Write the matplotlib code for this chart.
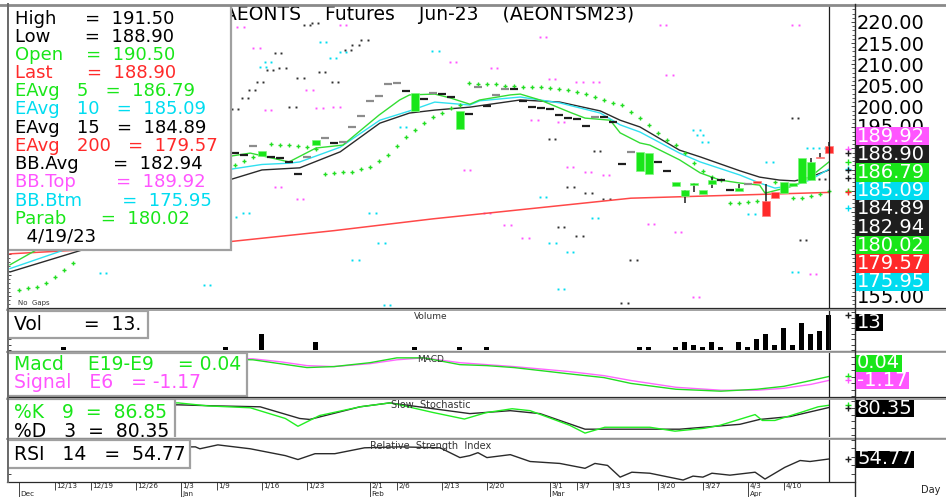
import numpy as np
import matplotlib
matplotlib.use("Agg")
import matplotlib.pyplot as plt
import matplotlib.transforms as mtransforms
from matplotlib.patches import Rectangle
from matplotlib.lines import Line2D
from matplotlib.ticker import MultipleLocator, FuncFormatter

plt.rcParams['font.family'] = ['DejaVu Sans']

W, H = 946, 497

# ---------------- data ----------------
TITLE = 'AEONTS    Futures    Jun-23    (AEONTSM23)'

# candles, day index 25..91 (index 0 = first trading day in Dec)
BAR_IDX = list(range(25, 92))
OPEN = [188.9, 188.4, 190.6, 188.2, 188.0, 187.7, 186.8, 183.9, 188.0, 190.8,
        192.5, 191.3, 191.5, 195.1, 197.7, 201.3, 202.4, 205.3, 205.5, 203.6,
        198.9, 201.7, 203.2, 202.9, 202.2, 194.6, 198.2, 204.6, 200.1, 202.7,
        204.1, 204.1, 201.3, 199.8, 199.6, 199.4, 197.9, 197.2, 197.0, 195.3,
        197.5, 197.5, 196.3, 186.3, 189.2, 184.7, 183.9, 186.8, 184.7, 181.1,
        178.7, 181.3, 179.2, 181.6, 182.5, 180.1, 179.9, 181.6, 182.2, 177.5,
        179.7, 179.4, 181.1, 181.8, 182.5, 188.0, 190.5]
HIGH = [188.9, 188.4, 190.6, 189.4, 188.0, 187.7, 186.8, 183.9, 188.0, 192.0,
        192.5, 191.3, 191.5, 195.1, 197.7, 201.3, 202.4, 205.3, 205.5, 203.6,
        203.2, 201.7, 203.2, 202.9, 202.2, 198.9, 198.2, 204.6, 200.1, 202.7,
        204.1, 204.1, 201.3, 199.8, 199.6, 199.4, 197.9, 197.2, 197.0, 195.3,
        197.5, 197.5, 196.3, 186.3, 189.2, 189.2, 188.9, 186.8, 184.7, 182.0,
        180.1, 181.8, 180.1, 183.2, 182.5, 180.1, 181.6, 181.6, 182.2, 181.6,
        179.7, 182.0, 181.8, 187.7, 187.7, 188.9, 191.5]
LOW = [188.9, 188.4, 190.6, 188.2, 188.0, 187.7, 186.8, 183.9, 188.0, 190.8,
       192.5, 191.3, 191.5, 195.1, 197.7, 201.3, 202.4, 205.3, 205.5, 203.6,
       198.9, 201.7, 203.2, 202.9, 202.2, 194.6, 198.2, 204.6, 200.1, 202.7,
       204.1, 204.1, 201.3, 199.8, 199.6, 199.4, 197.9, 197.2, 197.0, 195.3,
       197.5, 197.5, 196.3, 186.3, 189.2, 184.7, 183.9, 186.8, 184.7, 181.1,
       177.1, 179.7, 179.2, 180.6, 182.5, 180.1, 179.9, 181.6, 181.9, 174.0,
       178.2, 179.4, 181.1, 181.8, 182.5, 187.7, 188.9]
CLOSE = [188.9, 188.4, 190.6, 189.4, 188.0, 187.7, 186.8, 183.9, 188.0, 192.0,
         192.5, 191.3, 191.5, 195.1, 197.7, 201.3, 202.4, 205.3, 205.5, 203.6,
         203.2, 201.7, 203.2, 202.9, 202.2, 198.9, 198.2, 204.6, 200.1, 202.7,
         204.1, 204.1, 201.3, 199.8, 199.6, 199.4, 197.9, 197.2, 197.0, 195.3,
         197.5, 197.5, 196.3, 186.3, 189.2, 189.2, 188.9, 186.8, 184.7, 182.0,
         180.1, 181.8, 180.1, 182.5, 182.5, 180.1, 180.6, 181.6, 181.9, 174.0,
         178.2, 182.0, 181.8, 187.7, 186.8, 187.7, 188.9]

# moving averages (day index, price)
EMA5_X = [0, 3, 8, 13, 18, 21, 24, 26.7, 31, 34, 37, 41, 43.3, 44.4, 47.2, 48.9, 51.1, 52.2,
          55.6, 56.7, 58.9, 62.2, 63.9, 66.7, 67.8, 70, 71.1, 74.4, 76.7, 78.9, 81.1, 83.3,
          83.9, 86.7, 87.8, 88.9, 91]
EMA5 = [162.4, 166.0, 172.0, 178.0, 184.0, 187.0, 188.0, 188.9, 186.8, 190.1, 190.8, 197.9,
        201.5, 202.7, 202.9, 202.0, 200.5, 201.5, 202.7, 202.9, 201.5, 198.6, 197.2, 196.7,
        193.7, 191.3, 190.8, 187.3, 184.2, 182.5, 181.8, 181.3, 179.4, 180.9, 181.8, 183.2, 186.79]
EMA10_X = [0, 6, 12, 18, 24, 28, 31, 32.2, 36.7, 41.1, 44.4, 47.2, 51.1, 52.2, 56.7, 61.1,
           65.6, 67.8, 70, 74.4, 76.7, 81.1, 83.3, 85, 87.2, 88.9, 91]
EMA10 = [161.5, 165.9, 172.5, 179.5, 184.9, 186.2, 186.5, 186.8, 190.3, 196.7, 198.9, 201.0,
         200.3, 201.3, 202.2, 200.8, 198.4, 195.6, 193.9, 188.9, 186.8, 183.7, 181.8, 180.6,
         181.3, 182.5, 185.09]
EMA15_X = [0, 8, 16, 24, 28, 32.2, 36.7, 41.1, 44.4, 47.2, 51.1, 56.7, 61.1, 65.6, 67.8, 70,
           74.4, 76.7, 81.1, 83.3, 85.5, 87.2, 88.9, 91]
EMA15 = [160.7, 165.9, 174.5, 182.3, 184.9, 185.4, 189.2, 196.0, 198.4, 199.1, 199.8, 201.5,
         201.0, 198.9, 196.7, 195.1, 189.6, 188.0, 184.7, 183.2, 182.5, 182.3, 183.2, 184.89]
EMA200_X = [0, 24, 36, 47, 69, 91]
EMA200 = [165.0, 167.8, 170.5, 173.3, 178.2, 179.57]

# parabolic SAR
SAR_IDX = [1, 2, 3, 4, 5, 6, 7, 25, 26, 27] + list(range(29, 84)) + [85, 87, 88, 89, 90, 91]
SAR = [156.4, 157.0, 157.2, 158.1, 159.5, 161.2, 162.8, 186.1, 187.0, 188.0,
       191.1, 190.8, 190.8, 190.6, 190.3, 189.9, 183.9, 184.2, 184.4, 184.4,
       185.1, 185.6, 187.0, 188.4, 190.6, 192.7, 194.4, 196.0, 197.5, 198.4,
       199.6, 200.3, 205.5, 205.3, 205.3, 205.3, 204.8, 204.8, 204.6, 204.6,
       204.6, 204.3, 204.1, 203.9, 203.4, 202.9, 202.2, 201.5, 200.8, 200.3,
       198.6, 197.2, 195.6, 193.7, 192.0, 190.8, 188.9, 186.5, 184.7, 183.2,
       182.5, 177.1, 177.1, 177.3, 177.6,
       182.0, 178.2, 178.2, 178.7, 179.2, 180.02]

# band dots (sparse, as rendered)
PINK_X = [25.6, 27.4, 28.7, 29.8, 32.2, 33.3, 34.4, 36.3, 37.0, 49.2, 50.8, 53.0, 53.8, 55.3,
          57.3, 58.3, 59.2, 60.2, 61.2, 62.2, 63.3, 64.2, 65.1, 66.2, 71.2, 72.6, 73.3, 74.2,
          76.2, 87.3, 89.2]
PINK_Y = [218.8, 213.8, 199.1, 180.9, 178.0, 203.9, 199.6, 199.8, 219.3, 210.5, 184.9, 174.7,
          209.1, 171.8, 168.8, 196.7, 216.4, 206.5, 196.3, 185.6, 205.8, 184.4, 205.8, 183.7,
          172.1, 219.3, 207.4, 170.2, 154.8, 219.3, 160.2]
CYAN_X = [10.3, 21.9, 24.8, 26.2, 28.1, 28.7, 34.8, 35.9, 37.0, 38.4, 40.3, 41.3, 41.9, 43.7,
          47.3, 59.2, 60.3, 61.2, 62.2, 65.0, 76.3, 76.7, 77.2, 82.4, 84.4, 87.2, 88.9, 90.2]
CYAN_Y = [160.4, 157.6, 173.7, 174.7, 209.3, 210.5, 215.3, 211.5, 212.9, 163.5, 174.7, 167.6,
          152.9, 195.1, 213.1, 178.5, 167.6, 156.7, 165.4, 173.5, 194.4, 193.2, 191.5, 174.4,
          186.8, 160.7, 190.1, 190.1]
BLACK_X = [25.0, 26.1, 26.9, 27.8, 28.9, 29.8, 30.3, 31.4, 32.3, 33.0, 33.9, 34.7, 36.1, 37.6,
           38.4, 39.4, 60.2, 61.2, 62.3, 63.3, 64.3, 65.2, 66.3, 68.3, 69.3, 87.2, 88.1, 90.2]
BLACK_Y = [199.4, 202.0, 203.9, 205.8, 208.6, 212.6, 209.1, 199.8, 206.7, 219.3, 219.8, 208.1,
           205.8, 213.4, 214.5, 215.7, 192.2, 171.4, 180.9, 169.2, 179.4, 189.4, 178.0, 153.3,
           163.5, 197.2, 168.3, 182.8]

# last values shown in the legend
HI_LAST, LO_LAST, OP_LAST, LAST = 191.50, 188.90, 190.50, 188.90
EAVG5, EAVG10, EAVG15, EAVG200 = 186.79, 185.09, 184.89, 179.57
BB_AVG, BB_TOP, BB_BTM, PARAB = 182.94, 189.92, 175.95, 180.02
LAST_DATE = '4/19/23'

# volume
VOL_IDX = [6, 24, 28, 34, 45, 50, 53, 70, 71, 74, 75, 76, 77, 78, 79, 81, 82, 83, 84, 85, 86,
           87, 88, 89, 90, 91]
VOL = [1, 1, 6, 3, 1, 1, 1, 1, 1, 1, 3, 2, 1, 3, 1, 3, 1, 4, 6, 2, 8, 2, 10, 6, 7, 13]

# MACD
MACD_X = [20, 24, 27, 30, 33, 36, 40, 43, 46, 50, 53, 56, 62, 66, 69, 74, 79, 83, 86, 89, 91]
MACD = [5.5, 5.4, 5.2, 4.0, 2.8, 3.1, 4.3, 5.8, 5.8, 3.7, 3.4, 2.8, 0.9, -0.3, -2.1, -3.9,
        -4.5, -3.9, -3.0, -1.2, 0.04]
SIGNAL = [5.8, 5.6, 5.5, 4.6, 3.4, 3.1, 4.0, 5.2, 5.8, 4.3, 3.7, 3.1, 1.6, 0.3, -1.2, -3.3,
          -4.2, -4.2, -3.6, -2.4, -1.17]

# slow stochastic
K_X = [15, 18.7, 22, 26.7, 30.6, 32, 34.4, 38.9, 42.2, 43.3, 47, 50.5, 52.9, 55.8, 57.8,
       62.2, 63.9, 66.1, 71.1, 73.9, 77.2, 78.9, 82.8, 83.6, 85, 87.8, 89.8, 91]
K = [93, 93.7, 85, 79.6, 48.6, 26.0, 57.1, 82.4, 93.7, 88.1, 66, 47, 65.5, 76.8, 71.2, 28.8,
     6.3, 23.2, 23.2, 11.9, 20.4, 28.8, 59.9, 42.9, 42.9, 65.5, 82.4, 86.85]
D_X = [15, 18.7, 23, 27.8, 32.2, 33.3, 38.9, 42.2, 47, 51.1, 55.6, 58.9, 63.9, 70, 74.4,
       81.1, 83.3, 86.7, 91]
D = [88, 88.1, 85, 82.4, 48.6, 45.8, 82.4, 93.7, 77, 62.7, 71.2, 62.7, 17.6, 17.6, 17.6,
     31.7, 45.8, 54.2, 80.35]

# RSI
RSI_X = [17, 20.6, 21.1, 23.1, 26.7, 30.6, 32, 33.9, 36.1, 39.4, 43.3, 47.8, 50, 51.1, 52,
         53, 55.6, 57.8, 61.1, 63.9, 65, 66.4, 67.8, 69.1, 71.1, 74.8, 75.9, 77, 78, 80, 82.8,
         83.9, 86.1, 87.8, 88.9, 91]
RSI = [83, 83.7, 79.1, 88.4, 79.1, 62.8, 53.5, 67.4, 67.4, 81.4, 83.7, 81.4, 58.1, 62.8, 69.8,
       58.1, 65.1, 48.8, 44.2, 32.6, 44.2, 39.5, 11.6, 23.3, 20.9, 4.7, 14.0, 11.6, 20.9, 16.3,
       23.3, 7.0, 34.9, 51.2, 48.8, 54.77]

# x axis
TICK_IDX = [5, 9, 14, 19, 23, 28, 33, 40, 43, 48, 53, 60, 63, 67, 72, 77, 82, 86]
TICK_LAB = ['12/13', '12/19', '12/26', '1/3', '1/9', '1/16', '1/23', '2/1', '2/6', '2/13',
            '2/20', '3/1', '3/7', '3/13', '3/20', '3/27', '4/3', '4/10']
MONTH_IDX = [1, 19, 40, 60, 82]
MONTH_LAB = ['Dec', 'Jan', 'Feb', 'Mar', 'Apr']

# ---------------- style ----------------
GREEN = '#19e619'
RED = '#ff2a2a'
CYAN = '#00dcf0'
PINK = '#ff55ff'
DARK = '#1e1e1e'
GRAYDASH = '#8c8c8c'
LINEGRAY = '#9a9a9a'

LAST_I = BAR_IDX[-1]
MARK_I = LAST_I + 2.1
XLIM = (-0.33, 93.9)

fig = plt.figure(figsize=(W / 100, H / 100), dpi=100)


def fx(x):
    return x / W


def fy(y):
    return 1 - y / H


def panel(y0, y1):
    ax = fig.add_axes([fx(7), fy(y1), fx(855) - fx(7), fy(y0) - fy(y1)])
    ax.set_xlim(*XLIM)
    ax.set_xticks([])
    for s in ax.spines.values():
        s.set_visible(False)
    ax.tick_params(axis='y', which='both', left=True, right=True, labelleft=False,
                   labelright=False, direction='in', color='#444444')
    ax.tick_params(axis='y', which='major', length=3, width=0.7)
    ax.tick_params(axis='y', which='minor', length=2, width=0.6)
    ax.axvline(LAST_I, color=DARK, lw=0.9, zorder=5)
    return ax


def legend_box(ax, x0, y0, x1, y1, rows, size):
    ax.add_patch(Rectangle((fx(x0), fy(y1)), fx(x1) - fx(x0), fy(y0) - fy(y1),
                           transform=fig.transFigure, facecolor='white',
                           edgecolor='#a0a0a0', lw=1.6, zorder=10))
    for (x, y, s, c) in rows:
        ax.text(fx(x), fy(y), s, transform=fig.transFigure, color=c, fontsize=size,
                va='center', ha='left', zorder=11)


def tag(yc, s, fc, h=17, w=None):
    t = fig.text(fx(857), fy(yc), s, color='white', fontsize=14, va='center', ha='left',
                 zorder=21)
    if w is None:
        r = fig.canvas.get_renderer()
        w = t.get_window_extent(r).width + 3
    fig.add_artist(Rectangle((fx(855.5), fy(yc + h / 2)), w / W, h / H,
                             transform=fig.transFigure, facecolor=fc, edgecolor='none',
                             zorder=20))


def dots(ax, xs, ys, color):
    xs = np.asarray(xs)
    ys = np.asarray(ys)
    ax.plot(np.concatenate([xs - 0.35, xs + 0.35]), np.concatenate([ys, ys]), ls='none',
            marker='s', ms=1.4, mew=0, color=color, zorder=1)


# ---------------- price panel ----------------
TAG_TOP = 127
TAG_H = 18.2

ax = panel(5, 308)
ax.set_ylim(152.15, 224.03)
ax.yaxis.set_major_locator(MultipleLocator(5))
ax.yaxis.set_minor_locator(MultipleLocator(1))
# values whose labels sit behind the stacked tags are left blank
ax.yaxis.set_major_formatter(FuncFormatter(
    lambda v, p: '%.2f' % v if (v > 197 or v < 157) else ''))
ax.tick_params(axis='y', which='major', labelright=True, labelsize=14, pad=1.5)

dots(ax, PINK_X, PINK_Y, PINK)
dots(ax, CYAN_X, CYAN_Y, CYAN)
dots(ax, BLACK_X, BLACK_Y, '#303030')

ax.plot(EMA200_X, EMA200, color='#ff4848', lw=1.1, zorder=2)
ax.plot(EMA15_X, EMA15, color='#2a2a2a', lw=1.0, zorder=2)
ax.plot(EMA10_X, EMA10, color='#30e0f0', lw=1.0, zorder=2)
ax.plot(EMA5_X, EMA5, color='#33dd33', lw=1.0, zorder=2)
ax.plot(SAR_IDX, SAR, ls='none', marker='+', ms=3.2, mew=1.0, color='#22dd22', zorder=2)

prev = None
for i, o, h, l, c in zip(BAR_IDX, OPEN, HIGH, LOW, CLOSE):
    if o == c:
        col = GRAYDASH if (prev is not None and c > prev) else DARK
        ax.hlines(c, i - 0.42, i + 0.42, color=col, lw=1.6, zorder=3)
    else:
        col = GREEN if c > o else RED
        if h > max(o, c) or l < min(o, c):
            ax.vlines(i, l, h, color=DARK, lw=1.1, zorder=3)
        ax.bar(i, c - o, bottom=o, width=0.85, color=col, edgecolor='#7cf57c' if c > o
               else '#ff8080', lw=0.5, zorder=4)
    prev = c

price_marks = [(BB_TOP, PINK), (LAST, DARK), (EAVG5, GREEN), (EAVG10, CYAN), (EAVG15, DARK),
               (BB_AVG, DARK), (PARAB, GREEN), (EAVG200, RED), (BB_BTM, CYAN)]
for v, c in price_marks:
    ax.plot([MARK_I], [v], marker='+', ms=4, mew=1, color=c, zorder=5)

# title sits under the legend box, which hides part of its first letter
ax.text(fx(224), fy(15), TITLE, transform=fig.transFigure, fontsize=13.5, color='black',
        va='center', ha='left', zorder=9, clip_on=False)
ax.text(fx(18), fy(303), 'No  Gaps', transform=fig.transFigure, fontsize=5, color='#333333',
        va='center', ha='left')

# the 195.00 label is half hidden by the top tag
y195 = ax.transData.transform((0, 195))[1]
lab195 = fig.text(fx(857), y195 / H, '%.2f' % 195, fontsize=14, va='center', ha='left',
                  zorder=4)
lab195.set_clip_box(mtransforms.Bbox.from_extents(0, fy(TAG_TOP) * H, W, H))
lab195.set_clip_on(True)

leg_rows = [
    ('High     =  %.2f' % HI_LAST, 'black'),
    ('Low      =  %.2f' % LO_LAST, 'black'),
    ('Open    =  %.2f' % OP_LAST, GREEN),
    ('Last      =  %.2f' % LAST, RED),
    ('EAvg   5   =  %.2f' % EAVG5, GREEN),
    ('EAvg   10   =  %.2f' % EAVG10, CYAN),
    ('EAvg   15   =  %.2f' % EAVG15, 'black'),
    ('EAvg   200   =  %.2f' % EAVG200, RED),
    ('BB.Avg      =  %.2f' % BB_AVG, 'black'),
    ('BB.Top       =  %.2f' % BB_TOP, PINK),
    ('BB.Btm       =  %.2f' % BB_BTM, CYAN),
    ('Parab      =  %.2f' % PARAB, GREEN),
    ('  ' + LAST_DATE, 'black'),
]
legend_box(ax, 7, 5, 231, 250,
           [(15, 18.5 + 18.2 * k, s, c) for k, (s, c) in enumerate(leg_rows)], 13)

# price tags on the right, stacked
for k, (v, c) in enumerate(price_marks):
    tag(TAG_TOP + TAG_H / 2 + TAG_H * k, '%.2f' % v, c, h=TAG_H, w=73)

# ---------------- volume ----------------
axv = panel(311, 350)
axv.set_ylim(0, 14.4)
axv.yaxis.set_major_locator(MultipleLocator(2))
axv.bar(VOL_IDX, VOL, width=0.55, color='black', zorder=3)
axv.plot([MARK_I], [VOL[-1]], marker='+', ms=4, mew=1, color=DARK)
axv.text(0.5, 0.85, 'Volume', transform=axv.transAxes, fontsize=6.5, ha='center',
         va='center', color='#333333')
legend_box(axv, 7, 311, 148, 338, [(14, 325, 'Vol       =  %d.' % VOL[-1], 'black')], 13.5)
tag(322, '%d' % VOL[-1], 'black')

# ---------------- MACD ----------------
axm = panel(353, 397)
axm.set_ylim(-6.3, 7.3)
axm.yaxis.set_major_locator(MultipleLocator(2))
axm.plot(MACD_X, SIGNAL, color='#ff66ff', lw=1.0, zorder=2)
axm.plot(MACD_X, MACD, color='#22dd22', lw=1.0, zorder=3)
axm.plot([MARK_I], [MACD[-1]], marker='+', ms=4, mew=1, color=GREEN)
axm.plot([MARK_I], [SIGNAL[-1]], marker='+', ms=4, mew=1, color=PINK)
axm.text(0.5, 0.86, 'MACD', transform=axm.transAxes, fontsize=6.5, ha='center',
         va='center', color='#333333')
legend_box(axm, 7, 353, 247, 396,
           [(14, 364, 'Macd    E19-E9    = %.2f' % MACD[-1], GREEN),
            (14, 382, 'Signal   E6   = %.2f' % SIGNAL[-1], PINK)], 13.5)
tag(363, '%.2f' % MACD[-1], GREEN)
tag(380, '%.2f' % SIGNAL[-1], PINK)

# ---------------- slow stochastic ----------------
axs = panel(399, 437)
axs.set_ylim(-5, 105)
axs.yaxis.set_major_locator(MultipleLocator(20))
axs.plot(D_X, D, color='#2a2a2a', lw=1.0, zorder=2)
axs.plot(K_X, K, color='#22ee22', lw=1.0, zorder=3)
axs.plot([MARK_I], [K[-1]], marker='+', ms=4, mew=1, color=GREEN)
axs.plot([MARK_I], [D[-1]], marker='+', ms=4, mew=1, color=DARK)
axs.text(0.5, 0.84, 'Slow  Stochastic', transform=axs.transAxes, fontsize=7, ha='center',
         va='center', color='#333333')
legend_box(axs, 7, 399, 175, 445,
           [(14, 413, '%%K   9  =  %.2f' % K[-1], GREEN),
            (14, 431.5, '%%D   3  =  %.2f' % D[-1], 'black')], 13.5)
tag(408.5, '%.2f' % D[-1], 'black')

# ---------------- RSI ----------------
axr = panel(440, 482)
axr.set_ylim(0, 100)
axr.yaxis.set_major_locator(MultipleLocator(20))
axr.plot(RSI_X, RSI, color='#2a2a2a', lw=1.0, zorder=2)
axr.plot([MARK_I], [RSI[-1]], marker='+', ms=4, mew=1, color=DARK)
axr.text(0.5, 0.86, 'Relative  Strength  Index', transform=axr.transAxes, fontsize=7,
         ha='center', va='center', color='#333333')
legend_box(axr, 7, 440, 190, 468, [(14, 454, 'RSI   14   =  %.2f' % RSI[-1], 'black')], 13.5)
tag(459, '%.2f' % RSI[-1], 'black')

# x axis: dates and months
axr.set_xticks(TICK_IDX)
axr.set_xticklabels([])
axr.tick_params(axis='x', direction='out', length=5.5, width=0.7, color='#444444')
blend = mtransforms.blended_transform_factory(axr.transData, axr.transAxes)
for i, lab in zip(TICK_IDX, TICK_LAB):
    axr.annotate(lab, xy=(i, 0), xycoords=blend, xytext=(1.2, -2.9),
                 textcoords='offset points', fontsize=5.2, ha='left', va='center',
                 color='#222222')
for i, lab in zip(MONTH_IDX, MONTH_LAB):
    axr.plot([i, i], [0, -0.36], transform=blend, clip_on=False, color='#444444', lw=0.7)
    axr.annotate(lab, xy=(i, 0), xycoords=blend, xytext=(1.2, -8.7),
                 textcoords='offset points', fontsize=5.2, ha='left', va='center',
                 color='#222222')
fig.text(fx(921), fy(490), 'Day', fontsize=7, ha='left', va='center', color='#222222')


# ---------------- frame lines ----------------
def hline(y, x0, x1, color, lw):
    fig.add_artist(Line2D([fx(x0), fx(x1)], [fy(y), fy(y)], transform=fig.transFigure,
                          color=color, lw=lw, zorder=15))


def vline(x, y0, y1, color, lw):
    fig.add_artist(Line2D([fx(x), fx(x)], [fy(y0), fy(y1)], transform=fig.transFigure,
                          color=color, lw=lw, zorder=15))


hline(4.5, 0, W, '#8a8a8a', 2.0)
for yd, yg in [(308, 310.3), (350.5, 352.3), (397.2, 398.6), (437.6, 439.2)]:
    hline(yd, 7, W, '#2a2a2a', 0.9)
    hline(yg, 7, W, LINEGRAY, 1.3)
hline(482, 7, 855, '#2a2a2a', 0.9)
vline(855, 4, H, '#2a2a2a', 1.0)
vline(7.5, 4, 482, '#6a6a6a', 1.4)

fig.savefig('out.png', dpi=100)
